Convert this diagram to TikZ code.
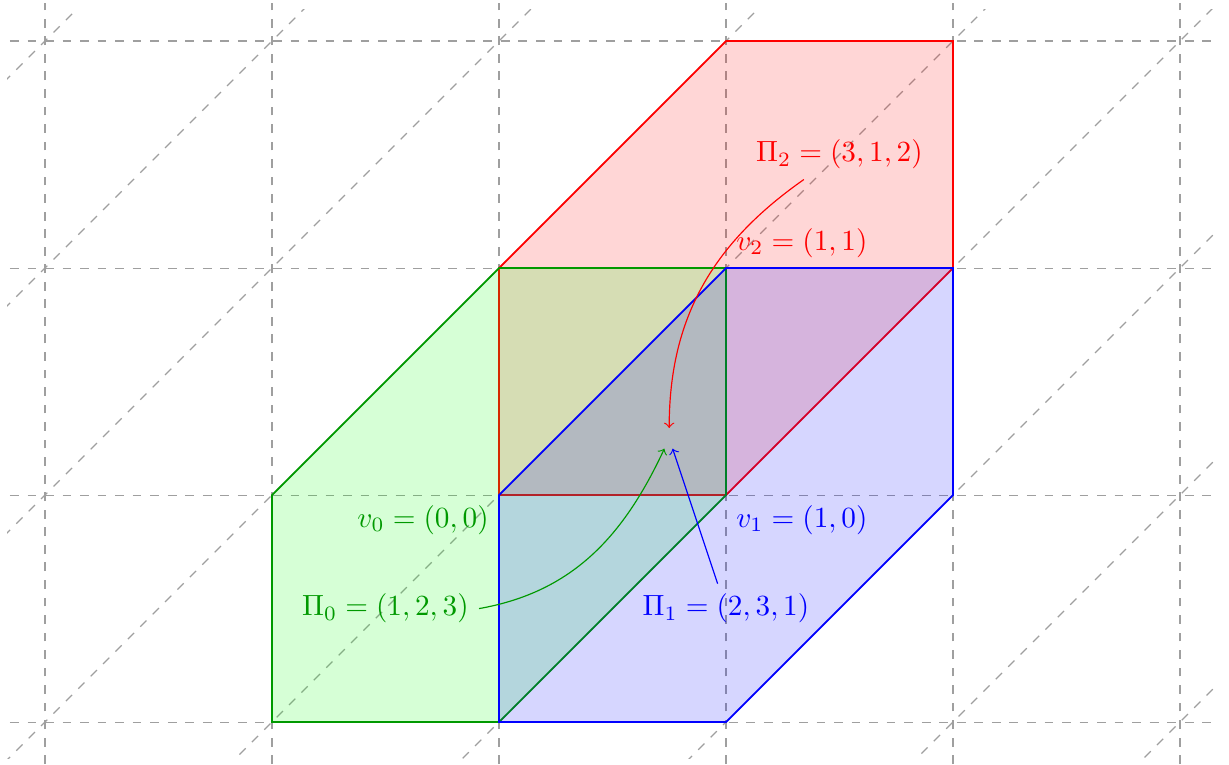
\documentclass[tikz,border=0pt]{standalone}
\usepackage{amsmath}
\usepackage{tikz}
\usetikzlibrary{arrows}
\colorlet{pgreen}{green!60!black}
\tikzset{
  >=to,
  gridline/.style={gray!75, dashed, thin},
  cellred/.style={draw=red, semithick, fill=red, fill opacity=0.16},
  cellgreen/.style={draw=pgreen, semithick, fill=green, fill opacity=0.16},
  cellblue/.style={draw=blue, semithick, fill=blue, fill opacity=0.16},
}

\begin{document}
\begin{tikzpicture}[x=2.73cm, y=2.73cm]
    \useasboundingbox (-2.198,-1.185) rectangle (3.216,2.181);
    % lattice
    \draw[gridline, step=1] (-2.154,-1.185) grid (3.154,2.167);
    \begin{scope}
      \clip (-2.167,-1.16) rectangle (3.163,2.14);
      \foreach \c in {-4,...,4}
        \draw[gridline] (-3,-3+\c) -- (4,4+\c);
    \end{scope}
    % cells
    \draw[cellred]   (0,0) -- (1,0) -- (2,1) -- (2,2) -- (1,2) -- (0,1) -- cycle;
    \draw[cellgreen] (-1,-1) -- (0,-1) -- (1,0) -- (1,1) -- (0,1) -- (-1,0) -- cycle;
    \draw[cellblue]  (0,-1) -- (1,-1) -- (2,0) -- (2,1) -- (1,1) -- (0,0) -- cycle;
    % labels
    \node[below left, text=pgreen] (v0) at (0,0) {$v_0 = (0,0)$};
    \node[below right, text=blue]  (v1) at (1,0) {$v_1 = (1,0)$};
    \node[above right, text=red]   (v2) at (1,1) {$v_2 = (1,1)$};
    \node[text=pgreen] (p0) at (-0.5,-0.5) {$\Pi_0 = (1,2,3)$};
    \node[text=blue]   (p1) at (1,-0.5)    {$\Pi_1 = (2,3,1)$};
    \node[text=red]    (p2) at (1.5,1.5)   {$\Pi_2 = (3,1,2)$};
    \node (mid) at (0.75,0.25) {};
    \draw[->, red]    (p2) to[out=215, in=90]  (mid);
    \draw[->, pgreen] (p0.east) to[out=10, in=245] (mid);
    \draw[->, blue]   (p1) -- (mid);
\end{tikzpicture}
\end{document}
